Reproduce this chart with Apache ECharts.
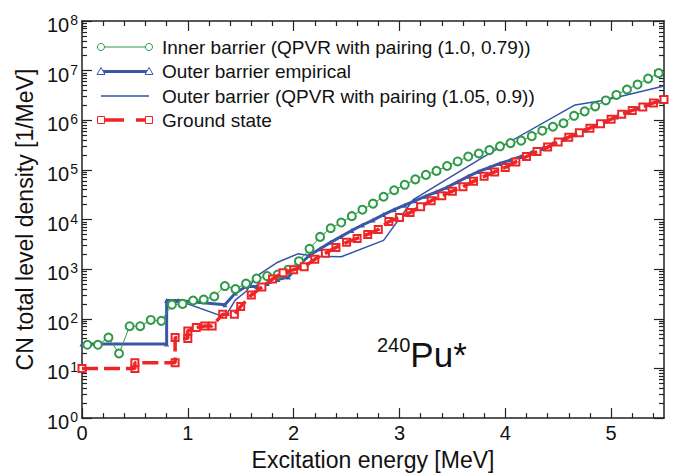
<!DOCTYPE html>
<html><head><meta charset="utf-8">
<script src="https://cdn.jsdelivr.net/npm/echarts@6/dist/echarts.min.js"></script>
<style>html,body{margin:0;padding:0;background:#fff}#c{width:685px;height:476px}</style>
</head><body><div id="c"></div>
<script>
// ---- data ----
const innerX = [0.05,0.15,0.25,0.35,0.45,0.55,0.65,0.75,0.85,0.95,1.05,1.15,1.25,1.35,1.45,1.55,1.65,1.75,1.85,1.95,2.05,2.15,2.25,2.35,2.45,2.55,2.65,2.75,2.85,2.95,3.05,3.15,3.25,3.35,3.45,3.55,3.65,3.75,3.85,3.95,4.05,4.15,4.25,4.35,4.45,4.55,4.65,4.75,4.85,4.95,5.05,5.15,5.25,5.35,5.45];
const innerY = [30,30,42,20,71,71,95,91,193,200,234,245,282,457,398,513,646,724,776,977,1450,2570,4470,6680,8710,11700,15800,20900,28800,38900,50100,64600,79400,95500,120000,148000,186000,214000,251000,299000,347000,389000,479000,617000,741000,871000,1230000,1510000,1910000,2510000,3240000,4170000,5250000,6920000,8910000];

const outerEmpX = [0,0.8,0.8,0.91,1.35,1.45,1.55,1.65,1.75,1.85,1.95,2.05,2.15,2.25,2.35,2.45,2.55,2.65,2.75,2.85,2.95,3.05,3.15,3.25,3.35,3.45,3.55,3.65,3.75,3.85,3.95,4.05,4.15,4.25,4.35,4.45,4.55,4.65,4.75,4.85,4.95,5.05,5.15,5.25,5.35,5.45];
const outerEmpY = [31,31,234,234,193,331,447,447,513,617,692,1200,1910,2570,3470,4570,6030,7760,9770,12600,15800,19500,24000,29500,36300,44700,57500,74100,93300,112000,135000,158000,186000,224000,269000,339000,417000,513000,631000,776000,955000,1170000,1450000,1740000,2090000,2450000];

const outerQpvrX = [0,0.8,0.8,0.91,1.35,1.45,1.55,1.65,1.85,2.04,2.2,2.45,2.85,3.13,3.87,4.66,4.95,5.5];
const outerQpvrY = [31,31,234,234,108,240,355,724,1380,2040,1820,1780,3800,25100,229000,2040000,2570000,4900000];

const groundX = [0,0.5,0.5,0.88,0.88,1.0,1.0,1.08,1.16,1.23,1.33,1.44,1.5,1.6,1.7,1.8,1.9,2.0,2.1,2.2,2.3,2.4,2.5,2.6,2.7,2.8,2.9,3.0,3.1,3.2,3.3,3.4,3.5,3.6,3.7,3.8,3.9,4.0,4.1,4.2,4.3,4.4,4.5,4.6,4.7,4.8,4.9,5.0,5.1,5.2,5.3,5.4,5.5];
const groundY = [10,10,13,13,42,40,57,67,72,72,123,123,178,302,437,631,851,977,1120,1580,2090,2750,3470,4170,5010,6310,9120,11000,13800,18200,24000,30200,37200,45700,58900,74100,91200,112000,145000,186000,234000,288000,363000,457000,562000,692000,851000,1050000,1320000,1580000,1860000,2240000,2630000];

const seriesNames = [
  'Inner barrier (QPVR with pairing (1.0, 0.79))',
  'Outer barrier empirical',
  'Outer barrier (QPVR with pairing (1.05, 0.9))',
  'Ground state'
];
const xMajorTicks = [0,1,2,3,4,5];
const xMinorTicks = [0.2,0.4,0.6,0.8,1.2,1.4,1.6,1.8,2.2,2.4,2.6,2.8,3.2,3.4,3.6,3.8,4.2,4.4,4.6,4.8,5.2,5.4];
const yMajorTicks = [1,10,100,1e3,1e4,1e5,1e6,1e7,1e8];
const yMinorTicks = [];
for (let e = 0; e < 8; e++) for (let m = 2; m <= 9; m++) yMinorTicks.push(m * Math.pow(10, e));

// ---- style ----
const FONT = 'Liberation Sans, Arial, Helvetica, sans-serif';
const GREEN = '#2e9a48', BLUE = '#3a57a7', BLUE2 = '#3552a6', RED = '#ee2526';
const AX = '#222';
const RED_DASH = [16, 6];

const chart = echarts.init(document.getElementById('c'), null, {renderer: 'svg'});

function xAx(pos, ticks, len, showLine, labels) {
  return {
    type: 'value', position: pos, min: 0, max: 5.5,
    axisLine: {show: showLine, onZero: false, lineStyle: {color: AX, width: 1.5}},
    axisTick: {show: true, inside: true, length: len, customValues: ticks, lineStyle: {color: AX, width: 1.2}},
    axisLabel: labels ? {show: true, customValues: xMajorTicks, margin: 5, fontSize: 20, color: '#111', fontFamily: FONT}
                      : {show: false},
    splitLine: {show: false}
  };
}
function yAx(pos, ticks, len, showLine, labels) {
  return {
    type: 'log', logBase: 10, position: pos, min: 1, max: 1e8,
    axisLine: {show: showLine, onZero: false, lineStyle: {color: AX, width: 1.5}},
    axisTick: {show: true, inside: true, length: len, customValues: ticks, lineStyle: {color: AX, width: 1.2}},
    axisLabel: labels ? {
      show: true, customValues: yMajorTicks, margin: 4,
      formatter: v => '{b|10}{s|' + Math.round(Math.log10(v)) + '}',
      rich: {
        b: {fontSize: 20, fontFamily: FONT, color: '#111', lineHeight: 22, padding: [8, 0, 0, 0]},
        s: {fontSize: 14, fontFamily: FONT, color: '#111', lineHeight: 15, verticalAlign: 'top', padding: [3, 0, 0, 1]}
      }
    } : {show: false},
    splitLine: {show: false}
  };
}

const xAxes = [
  Object.assign(xAx('bottom', xMajorTicks, 10, true, true), {
    name: 'Excitation energy [MeV]', nameLocation: 'middle', nameGap: 23,
    nameTextStyle: {fontSize: 23, fontFamily: FONT, color: '#111'}
  }),
  xAx('bottom', xMinorTicks, 5, false, false),
  xAx('top', xMajorTicks, 10, true, false),
  xAx('top', xMinorTicks, 5, false, false)
];
const yAxes = [
  Object.assign(yAx('left', yMajorTicks, 10, true, true), {
    name: 'CN total level density [1/MeV]', nameLocation: 'middle', nameGap: 43,
    nameTextStyle: {fontSize: 23, fontFamily: FONT, color: '#111'}
  }),
  yAx('left', yMinorTicks, 5, false, false),
  yAx('right', yMajorTicks, 10, true, false),
  yAx('right', yMinorTicks, 5, false, false)
];

const zip = (xs, ys) => xs.map((x, i) => [x, ys[i]]);

// legend drawn as graphic (line sample with markers at both ends)
const LX1 = 101, LX2 = 149, LTX = 162, LY = [47, 71.5, 96, 120];
function circleAt(x, y) { return {type: 'circle', shape: {cx: x, cy: y, r: 3.5}, style: {fill: '#fff', stroke: GREEN, lineWidth: 1}}; }
function triAt(x, y) { return {type: 'polygon', shape: {points: [[x, y - 4], [x - 4, y + 3], [x + 4, y + 3]]}, style: {fill: '#fff', stroke: BLUE, lineWidth: 1}}; }
function rectAt(x, y) { return {type: 'rect', shape: {x: x - 3.5, y: y - 3.5, width: 7, height: 7}, style: {fill: '#fff', stroke: RED, lineWidth: 1}}; }
const legendEls = [
  {type: 'line', shape: {x1: LX1, y1: LY[0], x2: LX2, y2: LY[0]}, style: {stroke: GREEN, lineWidth: 1}},
  circleAt(LX1, LY[0]), circleAt(LX2, LY[0]),
  {type: 'line', shape: {x1: LX1, y1: LY[1], x2: LX2, y2: LY[1]}, style: {stroke: BLUE, lineWidth: 3}},
  triAt(LX1, LY[1]), triAt(LX2, LY[1]),
  {type: 'line', shape: {x1: LX1, y1: LY[2], x2: LX2, y2: LY[2]}, style: {stroke: BLUE2, lineWidth: 1.5}},
  {type: 'line', shape: {x1: LX1, y1: LY[3], x2: LX2, y2: LY[3]}, style: {stroke: RED, lineWidth: 3.5, lineDash: [23, 12]}},
  rectAt(LX1, LY[3]), rectAt(LX2, LY[3])
];
seriesNames.forEach((n, i) => legendEls.push({
  type: 'text', x: LTX, y: LY[i],
  style: {text: n, fontSize: 19, fontFamily: FONT, fill: '#111', verticalAlign: 'middle', align: 'left'}
}));
legendEls.push({
  type: 'text', x: 377, y: 373,
  style: {
    text: '{a|240}{b|Pu*}', verticalAlign: 'bottom', align: 'left',
    rich: {
      a: {fontSize: 20, fontFamily: FONT, fill: '#111', color: '#111', lineHeight: 38, verticalAlign: 'top'},
      b: {fontSize: 35, fontFamily: FONT, fill: '#111', color: '#111', lineHeight: 38}
    }
  }
});

chart.setOption({
  animation: false,
  backgroundColor: '#fff',
  grid: {left: 82, right: 21, top: 21, bottom: 48, containLabel: false},
  xAxis: xAxes,
  yAxis: yAxes,
  graphic: {elements: legendEls.map(e => Object.assign({z: 100}, e))},
  series: [
    {
      name: seriesNames[2], type: 'line', data: zip(outerQpvrX, outerQpvrY), showSymbol: false, symbol: 'none',
      lineStyle: {color: BLUE2, width: 1.5}, itemStyle: {color: BLUE2}, z: 2
    },
    {
      name: seriesNames[1], type: 'line', data: zip(outerEmpX, outerEmpY), symbol: 'triangle', symbolSize: 5,
      lineStyle: {color: BLUE, width: 3}, itemStyle: {color: BLUE}, z: 3
    },
    {
      name: seriesNames[0], type: 'line', data: zip(innerX, innerY), symbol: 'emptyCircle', symbolSize: 8,
      lineStyle: {color: GREEN, width: 1}, itemStyle: {color: GREEN, borderWidth: 1}, z: 4
    },
    // ground state: square markers underneath ...
    {
      name: seriesNames[3], type: 'line', data: zip(groundX, groundY), symbol: 'emptyRect', symbolSize: 7,
      lineStyle: {color: RED, width: 0, opacity: 0}, itemStyle: {color: RED, borderWidth: 1}, z: 5
    },
    // ... and the thick dashed line drawn over them
    {
      name: seriesNames[3] + ' line', type: 'line', data: zip(groundX, groundY), symbol: 'none', showSymbol: false,
      lineStyle: {color: RED, width: 3.5, type: RED_DASH}, itemStyle: {color: RED}, z: 6
    }
  ]
});
</script>
</body></html>
